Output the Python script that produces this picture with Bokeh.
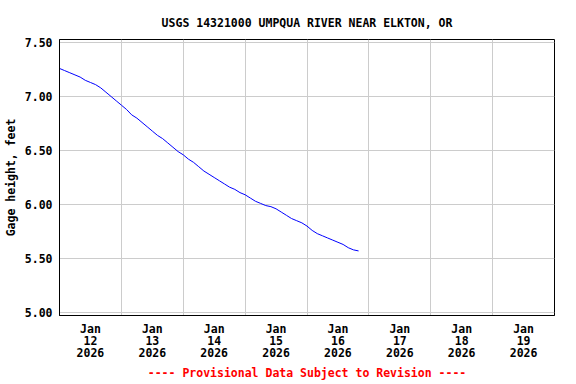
import pandas as pd
from bokeh.plotting import figure
from bokeh.models import FixedTicker, Range1d, Title, PrintfTickFormatter
from bokeh.embed import file_html
from bokeh.resources import INLINE

# ---- data ----
start = pd.Timestamp("2026-01-12 00:00")
hours = list(range(0, 118, 2))
gage_ft = [7.26, 7.24, 7.22, 7.20, 7.18, 7.15, 7.13, 7.11, 7.08, 7.04,
           7.00, 6.96, 6.92, 6.88, 6.83, 6.80, 6.76, 6.72, 6.68, 6.64,
           6.61, 6.57, 6.53, 6.49, 6.46, 6.42, 6.39, 6.35, 6.31, 6.28,
           6.25, 6.22, 6.19, 6.16, 6.14, 6.11, 6.09, 6.06, 6.03, 6.01,
           5.99, 5.98, 5.96, 5.93, 5.90, 5.87, 5.85, 5.83, 5.80, 5.76,
           5.73, 5.71, 5.69, 5.67, 5.65, 5.63, 5.60, 5.58, 5.57]
day_labels = ["Jan\n12\n2026", "Jan\n13\n2026", "Jan\n14\n2026", "Jan\n15\n2026",
              "Jan\n16\n2026", "Jan\n17\n2026", "Jan\n18\n2026", "Jan\n19\n2026"]
y_ticks = [5.00, 5.50, 6.00, 6.50, 7.00, 7.50]
title_text = "USGS 14321000 UMPQUA RIVER NEAR ELKTON, OR"
y_label = "Gage height, feet"
footer_text = "---- Provisional Data Subject to Revision ----"

times = [start + pd.Timedelta(hours=h) for h in hours]

def ms(ts):
    return (ts - pd.Timestamp("1970-01-01")).total_seconds() * 1000.0

noon_ticks = [ms(start + pd.Timedelta(hours=12 + 24 * i)) for i in range(len(day_labels))]
midnight_ticks = [ms(start + pd.Timedelta(days=i)) for i in range(0, 9)]

FONT = "DejaVu Sans Mono"
FS = "11.5px"

p = figure(frame_width=495, frame_height=276, x_axis_type="datetime",
           output_backend="svg", toolbar_location=None,
           x_range=Range1d(ms(start), ms(start + pd.Timedelta(days=8))),
           y_range=Range1d(4.972, 7.528),
           min_border_left=50, min_border_right=15,
           min_border_top=39, min_border_bottom=0)

p.title.text = title_text
p.title.align = "center"
p.title.text_font = FONT
p.title.text_font_style = "bold"
p.title.text_font_size = FS
p.title.text_color = "black"
p.title.standoff = 20

p.line(times, gage_ft, line_color="#0000FF", line_width=1)

p.xaxis.ticker = FixedTicker(ticks=noon_ticks)
p.xaxis.major_label_overrides = {t: lab for t, lab in zip(noon_ticks, day_labels)}
p.yaxis.ticker = FixedTicker(ticks=y_ticks)
p.yaxis.formatter = PrintfTickFormatter(format="%.2f")
p.xgrid.ticker = FixedTicker(ticks=midnight_ticks)
p.ygrid.ticker = FixedTicker(ticks=y_ticks)

for ax in (p.xaxis[0], p.yaxis[0]):
    ax.major_tick_in = 0
    ax.major_tick_out = 0
    ax.minor_tick_in = 0
    ax.minor_tick_out = 0
    ax.axis_line_color = "black"
    ax.axis_line_width = 1
    ax.major_label_text_font = FONT
    ax.major_label_text_font_style = "bold"
    ax.major_label_text_font_size = FS
    ax.major_label_text_color = "black"

p.xaxis.major_label_standoff = 6
p.xaxis.major_label_text_line_height = 0.86
p.yaxis.major_label_standoff = 7
p.yaxis.axis_label = y_label
p.yaxis.axis_label_text_font = FONT
p.yaxis.axis_label_text_font_style = "bold"
p.yaxis.axis_label_text_font_size = FS
p.yaxis.axis_label_text_color = "black"
p.yaxis.axis_label_standoff = 4

p.xgrid.grid_line_color = "#CCCCCC"
p.ygrid.grid_line_color = "#CCCCCC"
p.outline_line_color = "black"
p.outline_line_width = 1
p.outline_line_alpha = 1
p.background_fill_color = "white"
p.border_fill_color = "white"

footer = Title(text=footer_text, align="center", text_color="#FF0000",
               text_font=FONT, text_font_style="bold", text_font_size=FS,
               standoff=2, offset=0)
p.add_layout(footer, "below")

open("out.html", "w").write(file_html(p, INLINE))
